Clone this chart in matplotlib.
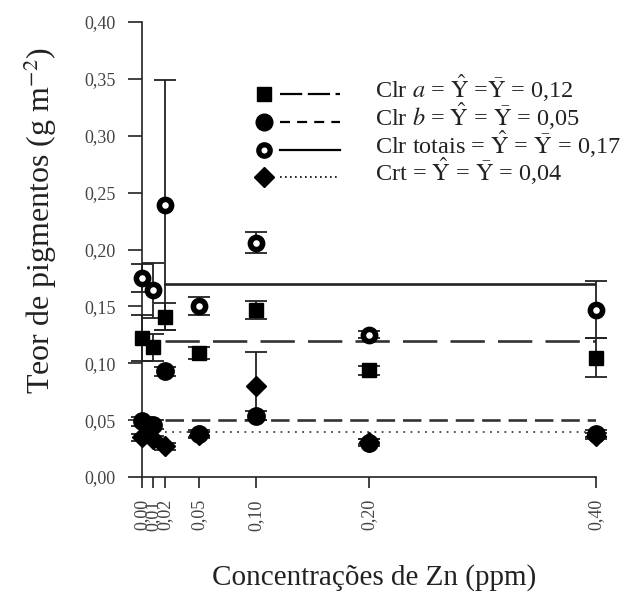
import matplotlib
matplotlib.use("Agg")
import matplotlib.pyplot as plt

plt.rcParams['font.family'] = ['Liberation Serif', 'DejaVu Serif']
plt.rcParams['mathtext.fontset'] = 'stix'

# Zn concentrations (ppm)
zn = [0.00, 0.01, 0.02, 0.05, 0.10, 0.20, 0.40]
zn_labels = ["0,00", "0,01", "0,02", "0,05", "0,10", "0,20", "0,40"]

# pigment contents (g m-2) with their error bars
clr_a = [0.122, 0.114, 0.141, 0.109, 0.147, 0.094, 0.105]
clr_a_err = [0.020, 0.012, 0.012, 0.005, 0.008, 0.004, 0.017]
clr_b = [0.049, 0.046, 0.093, 0.038, 0.054, 0.030, 0.038]
clr_b_err = [0.004, 0.004, 0.004, 0.003, 0.004, 0.003, 0.003]
clr_tot = [0.175, 0.164, 0.239, 0.150, 0.206, 0.125, 0.147]
clr_tot_err = [0.012, 0.024, 0.110, 0.008, 0.009, 0.003, 0.025]
crt = [0.035, 0.033, 0.027, 0.037, 0.080, 0.031, 0.036]
crt_err = [0.003, 0.003, 0.003, 0.003, 0.030, 0.002, 0.003]

# means (no significant regression)
mean_a, mean_b, mean_tot, mean_crt = 0.12, 0.05, 0.17, 0.04
mean_x = [0.02, 0.40]

y_ticks = [0.00, 0.05, 0.10, 0.15, 0.20, 0.25, 0.30, 0.35, 0.40]
y_labels = ["0,00", "0,05", "0,10", "0,15", "0,20", "0,25", "0,30", "0,35", "0,40"]

fig = plt.figure(figsize=(6.43, 5.95), dpi=100)
ax = fig.add_axes([142 / 643, 118 / 595, 454 / 643, 455 / 595])

# mean lines
ax.plot(mean_x, [mean_tot] * 2, color='#222', lw=1.9, zorder=2)
ax.plot(mean_x, [mean_a] * 2, color='#333', lw=1.9, dashes=(13, 5), zorder=2)
ax.plot(mean_x, [mean_b] * 2, color='#333', lw=1.9, dashes=(7, 3), zorder=2)
ax.plot(mean_x, [mean_crt] * 2, color='#444', lw=1.3, dashes=(1, 3), zorder=2)

eb = dict(fmt='none', ecolor='#222', elinewidth=1.3, capsize=8, capthick=1.3,
          zorder=3, clip_on=False)
ax.errorbar(zn, clr_tot, yerr=clr_tot_err, **eb)
ax.errorbar(zn, clr_a, yerr=clr_a_err, **eb)
ax.errorbar(zn, clr_b, yerr=clr_b_err, **eb)
ax.errorbar(zn, crt, yerr=crt_err, **eb)

ax.plot(zn, clr_a, 's', color='black', ms=10, zorder=4, clip_on=False)
ax.plot(zn, clr_b, 'o', color='black', ms=12.5, zorder=4, clip_on=False)
ax.plot(zn, crt, 'D', color='black', ms=10, zorder=4, clip_on=False)
ax.plot(zn, clr_tot, 'o', mfc='white', mec='black', mew=4.0, ms=8.8,
        zorder=5, clip_on=False)

ax.set_xlim(0, 0.40)
ax.set_ylim(0, 0.40)
ax.set_xticks(zn)
ax.set_xticklabels(zn_labels, rotation=90)
ax.set_yticks(y_ticks)
ax.set_yticklabels(y_labels)
ax.tick_params(axis='x', length=8, width=1.2, pad=8, labelsize=13,
               labelcolor='#444', color='#222')
ax.tick_params(axis='y', length=10, width=1.2, pad=9, labelsize=13,
               labelcolor='#444', color='#222')
for side in ['top', 'right']:
    ax.spines[side].set_visible(False)
for side in ['left', 'bottom']:
    ax.spines[side].set_linewidth(1.2)
    ax.spines[side].set_color('#222')

fig.text(374 / 643, 1 - 578 / 595, "Concentrações de Zn (ppm)", fontsize=21,
         ha='center', va='center', color='#222')
fig.text(40 / 643, 1 - 220 / 595, "Teor de pigmentos (g m$^{-2}$)", fontsize=23,
         ha='center', va='center', rotation=90, color='#222')

# legend drawn by hand: marker, line sample, text
rows = [0.842, 0.780, 0.719, 0.659]
mk_x = 0.269
ln_x = [0.304, 0.436]
tx_x = 0.513
tr = ax.transAxes
ax.plot([mk_x], [rows[0]], 's', color='black', ms=10, transform=tr, clip_on=False)
ax.plot(ln_x, [rows[0]] * 2, color='black', lw=1.6, dashes=(10, 2.5), transform=tr)
ax.plot([mk_x], [rows[1]], 'o', color='black', ms=12, transform=tr, clip_on=False)
ax.plot(ln_x, [rows[1]] * 2, color='black', lw=1.6, dashes=(4.5, 3.2), transform=tr)
ax.plot([mk_x], [rows[2]], 'o', mfc='white', mec='black', mew=3.8, ms=8.2,
        transform=tr, clip_on=False)
ax.plot(ln_x, [rows[2]] * 2, color='black', lw=1.6, transform=tr)
ax.plot([mk_x], [rows[3]], 'D', color='black', ms=10, transform=tr, clip_on=False)
ax.plot(ln_x, [rows[3]] * 2, color='black', lw=1.2, dashes=(1, 2), transform=tr)

legend_texts = [
    r"Clr $a$ = $\hat{\mathrm{Y}}$ =$\bar{\mathrm{Y}}$ = 0,12",
    r"Clr $b$ = $\hat{\mathrm{Y}}$ = $\bar{\mathrm{Y}}$ = 0,05",
    r"Clr totais = $\hat{\mathrm{Y}}$ = $\bar{\mathrm{Y}}$ = 0,17",
    r"Crt = $\hat{\mathrm{Y}}$ = $\bar{\mathrm{Y}}$ = 0,04",
]
for yy, txt in zip(rows, legend_texts):
    ax.text(tx_x, yy - 0.009, txt, transform=tr, fontsize=17.5, va='baseline',
            ha='left', color='#222')

fig.savefig("out.png", dpi=100)
